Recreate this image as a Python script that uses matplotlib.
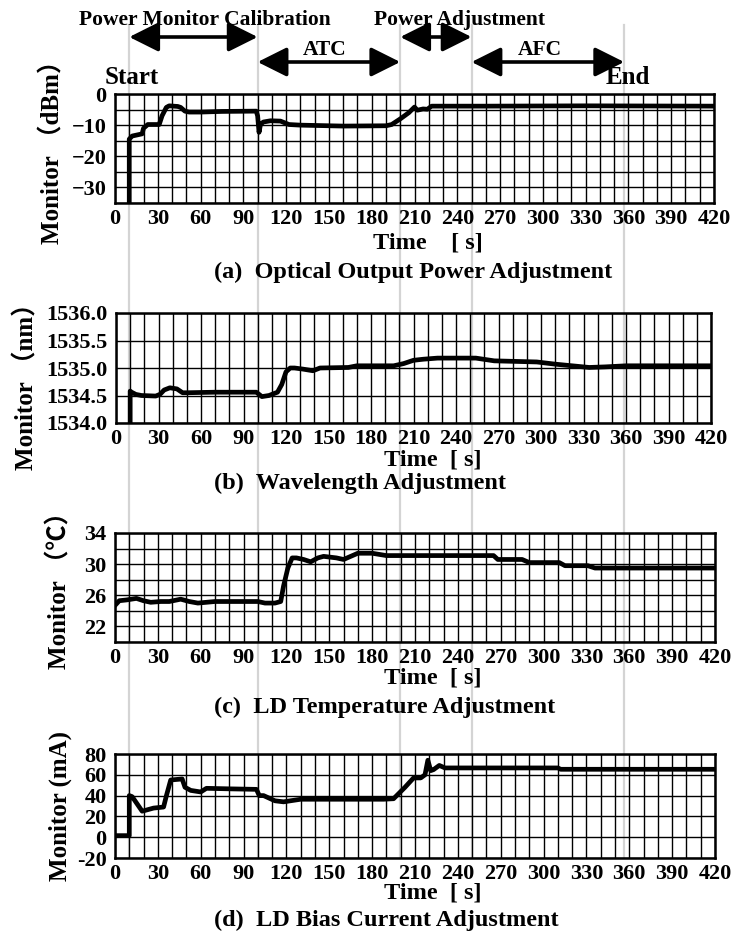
import matplotlib
matplotlib.use('Agg')
import matplotlib.pyplot as plt
from matplotlib.transforms import blended_transform_factory
from matplotlib.lines import Line2D

plt.rcParams['font.family'] = ['Liberation Serif', 'Noto Sans CJK JP', 'DejaVu Sans']
plt.rcParams['font.weight'] = 'bold'
plt.rcParams['axes.unicode_minus'] = True

# (a) optical output power monitor [dBm]
ta = [10, 10, 12, 19, 20, 23, 31, 33, 36, 38, 44, 46, 49, 52, 60, 75, 99, 100, 101, 102, 104, 109,
      116, 122, 130, 160, 190, 194, 200, 206, 210, 212, 216, 219, 222, 260, 330, 420]
va = [-36, -14.5, -13.5, -12.8, -11, -9.8, -9.8, -7, -4.3, -3.8, -4, -4.3, -5.5, -5.8, -5.8, -5.6,
      -5.5, -7, -12.3, -9.8, -9, -8.6, -8.7, -9.8, -10, -10.3, -10.2, -9.8, -8, -6, -4.2, -5.2,
      -4.8, -4.9, -3.9, -3.9, -3.8, -3.9]

# (b) wavelength monitor [nm]
tb = [10, 10, 11, 14, 18, 28, 31, 34, 38, 43, 47, 50, 70, 99, 103, 108, 114, 117, 120, 123, 126,
      132, 139, 144, 164, 170, 196, 203, 210, 217, 227, 254, 267, 297, 310, 334, 345, 360, 420]
vb = [1533.9, 1534.58, 1534.56, 1534.52, 1534.5, 1534.49, 1534.52, 1534.6, 1534.64, 1534.62,
      1534.55, 1534.55, 1534.56, 1534.56, 1534.48, 1534.5, 1534.56, 1534.7, 1534.93, 1535.0,
      1535.0, 1534.98, 1534.95, 1535.0, 1535.01, 1535.04, 1535.04, 1535.08, 1535.14, 1535.16,
      1535.18, 1535.18, 1535.13, 1535.11, 1535.07, 1535.01, 1535.02, 1535.04, 1535.04]

# (c) LD temperature monitor [degC]
tc = [0, 3, 8, 15, 20, 25, 32, 38, 46, 52, 58, 70, 90, 100, 105, 112, 116, 118, 121, 124, 127,
      132, 137, 142, 146, 155, 160, 165, 170, 180, 190, 265, 268, 285, 290, 311, 315, 331, 336, 420]
vc = [24.7, 25.3, 25.4, 25.6, 25.3, 25.1, 25.2, 25.2, 25.5, 25.2, 25.0, 25.2, 25.2, 25.2, 25.0,
      25.0, 25.2, 27.2, 29.5, 30.8, 30.8, 30.6, 30.3, 30.8, 31.0, 30.8, 30.6, 31.0, 31.4, 31.4,
      31.1, 31.1, 30.6, 30.6, 30.2, 30.2, 29.8, 29.8, 29.5, 29.5]

# (d) LD bias current monitor [mA]
td = [0, 10, 10, 12, 19, 27, 34, 36, 39, 47, 49, 53, 60, 64, 80, 99, 101, 104, 112, 118, 130,
      188, 195, 203, 209, 214, 217, 219, 221, 223, 227, 231, 250, 310, 312, 420]
vd = [1.5, 1.5, 40, 39, 25, 28, 29, 40, 55, 56, 48, 45, 43.5, 47, 46.5, 46, 40, 40, 35, 34, 36.5,
      36.5, 37, 48, 57, 57, 60, 74, 64, 65, 69, 66.6, 66.6, 66.6, 65.3, 65.3]

phase_t = [10, 100, 200, 250, 357]
xticks = list(range(0, 421, 30))

W, H = 735, 936
fig = plt.figure(figsize=(W / 100, H / 100), dpi=100)


def box(l, t, r, b):
    return [l / W, 1 - b / H, (r - l) / W, (b - t) / H]


def fx(px):
    return px / W


def fy(py):
    return 1 - py / H


panels = [
    dict(t=ta, v=va, pos=(115, 94, 714, 203), ylim=(-35, 0), major=[0, -10, -20, -30],
         labels=['0', '−10', '−20', '−30'], step=5),
    dict(t=tb, v=vb, pos=(116, 313, 711, 423), ylim=(1534, 1536),
         major=[1534.0, 1534.5, 1535.0, 1535.5, 1536.0],
         labels=['1534.0', '1534.5', '1535.0', '1535.5', '1536.0'], step=0.5),
    dict(t=tc, v=vc, pos=(115, 533, 715, 642), ylim=(20, 34), major=[22, 26, 30, 34],
         labels=['22', '26', '30', '34'], step=2),
    dict(t=td, v=vd, pos=(115, 754, 715, 858), ylim=(-20, 80), major=[-20, 0, 20, 40, 60, 80],
         labels=['-20', '0', '20', '40', '60', '80'], step=20),
]

axes = []
for p in panels:
    ax = fig.add_axes(box(*p['pos']))
    ax.set_facecolor('none')
    ax.plot(p['t'], p['v'], color='black', lw=3.4, solid_joinstyle='round', zorder=5)
    ax.set_xlim(0, 420)
    lo, hi = p['ylim']
    ax.set_ylim(lo, hi)
    ax.set_xticks(xticks)
    ax.set_xticks(range(0, 421, 10), minor=True)
    ax.set_yticks(p['major'])
    ax.set_yticklabels(p['labels'])
    n = int(round((hi - lo) / p['step']))
    ax.set_yticks([lo + i * p['step'] for i in range(n + 1)], minor=True)
    ax.grid(which='both', color='black', lw=1.0)
    ax.tick_params(which='both', length=0, labelsize=16)
    ax.tick_params(axis='x', pad=4)
    ax.tick_params(axis='y', pad=6)
    for s in ax.spines.values():
        s.set_linewidth(1.8)
    axes.append(ax)

ax_a = axes[0]

# gray phase markers running through all panels
tr = blended_transform_factory(ax_a.transData, fig.transFigure)
for t in phase_t:
    fig.add_artist(Line2D([t, t], [fy(25), fy(858)], transform=tr, color='#d4d4d4',
                          lw=1.6, zorder=-1))

# phase arrows
arrows = [(10, 100, 37), (100, 200, 62), (200, 250, 37), (250, 357, 62)]
for t0, t1, ypx in arrows:
    ax_a.annotate('', xy=(t1, fy(ypx)), xytext=(t0, fy(ypx)), xycoords=('data', 'figure fraction'),
                  textcoords=('data', 'figure fraction'), annotation_clip=False,
                  arrowprops=dict(arrowstyle='<|-|>,head_length=0.9,head_width=0.45',
                                  mutation_scale=20, lw=2.6, color='black',
                                  shrinkA=0, shrinkB=0))

fig.text(fx(205), fy(20), 'Power Monitor Calibration', fontsize=15.5, ha='center', va='center')
fig.text(fx(325), fy(50), 'ATC', fontsize=15.5, ha='center', va='center')
fig.text(fx(459), fy(20), 'Power Adjustment', fontsize=15.5, ha='center', va='center')
fig.text(fx(540), fy(50), 'AFC', fontsize=15.5, ha='center', va='center')
fig.text(fx(132), fy(77), 'Start', fontsize=18, ha='center', va='center')
fig.text(fx(628), fy(77), 'End', fontsize=18, ha='center', va='center')

# axis labels and captions
xlab = [('Time    [ s]', 428, 243), ('Time  [ s]', 433, 460), ('Time  [ s]', 433, 678),
        ('Time  [ s]', 433, 893)]
for s, x, y in xlab:
    fig.text(fx(x), fy(y), s, fontsize=17.5, ha='center', va='center')

caps = [('(a)  Optical Output Power Adjustment', 272), ('(b)  Wavelength Adjustment', 483),
        ('(c)  LD Temperature Adjustment', 707), ('(d)  LD Bias Current Adjustment', 920)]
for s, y in caps:
    fig.text(fx(214), fy(y), s, fontsize=17.5, ha='left', va='center')

ylab = [('Monitor （dBm）', 52, 146), ('Monitor （nm）', 27, 380), ('Monitor （℃）', 60, 584),
        ('Monitor (mA)', 60, 806)]
for s, x, y in ylab:
    fig.text(fx(x), fy(y), s, fontsize=18, ha='center', va='center', rotation=90)

fig.savefig('out.png', dpi=100)
